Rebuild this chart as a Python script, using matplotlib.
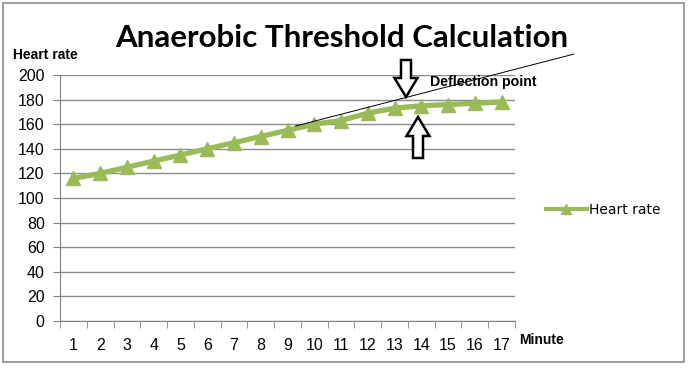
import matplotlib
matplotlib.use("Agg")
import matplotlib.pyplot as plt
from matplotlib.patches import Rectangle, Polygon

minutes = list(range(1, 18))
heart_rate = [116, 120, 125, 130, 135, 140, 145, 150, 155, 160, 163, 169, 173, 175, 176, 177, 178]
y_ticks = [0, 20, 40, 60, 80, 100, 120, 140, 160, 180, 200]
trend_x = [9.3, 19.7]
trend_y = [158.5, 217]

W, H = 700, 376
fig = plt.figure(figsize=(W / 100, H / 100), dpi=100)
fig.patch.set_facecolor("white")

def fx(px):
    return px / W

def fy(py):
    return 1 - py / H

# outer border
fig.patches.append(Rectangle((fx(3), fy(362)), fx(684) - fx(3), fy(3) - fy(362),
                             transform=fig.transFigure, fill=False,
                             edgecolor="#8c8c8c", linewidth=1.2))

ax = fig.add_axes([fx(60), fy(321), fx(515) - fx(60), fy(75) - fy(321)])
green = "#9BBB59"
ax.plot(minutes, heart_rate, color=green, linewidth=3.8, marker="^",
        markersize=9.5, markerfacecolor=green, markeredgecolor=green,
        label="Heart rate", zorder=3)
ax.plot(trend_x, trend_y, color="black", linewidth=0.7, clip_on=False, zorder=4)

ax.set_xlim(0.5, 17.5)
ax.set_ylim(0, 200)
ax.set_yticks(y_ticks)
ax.set_xticks(minutes)
ax.set_xticks([i + 0.5 for i in range(0, 18)], minor=True)
ax.tick_params(axis="x", which="major", length=0, pad=12, labelsize=11.5)
ax.tick_params(axis="x", which="minor", length=5, color="#808080", direction="out")
ax.tick_params(axis="y", length=5, color="#808080", labelsize=11.5, pad=6)
ax.grid(axis="y", color="#8c8c8c", linewidth=1)
ax.set_axisbelow(True)
for s in ["top", "right"]:
    ax.spines[s].set_visible(False)
ax.spines["left"].set_color("#808080")
ax.spines["bottom"].set_color("#808080")

for lab in ax.get_xticklabels() + ax.get_yticklabels():
    lab.set_fontfamily("Liberation Sans")

# texts
fig.text(fx(342), fy(38), "Anaerobic Threshold Calculation", ha="center", va="center",
         fontsize=22.5, fontweight="bold", family="Lato", color="black")
fig.text(fx(13), fy(55), "Heart rate", ha="left", va="center",
         fontsize=10, fontweight="bold", family="Liberation Sans")
fig.text(fx(519), fy(340), "Minute", ha="left", va="center",
         fontsize=10, fontweight="bold", family="Liberation Sans")
fig.text(fx(430), fy(82), "Deflection point", ha="left", va="center",
         fontsize=10.2, fontweight="bold", family="Liberation Sans")

def hollow_arrow(x, y_tail, y_tip):
    sw, hw, hl = 5, 11.5, 19
    d = 1 if y_tip > y_tail else -1
    yh = y_tip - d * hl
    pts = [(x - sw, y_tail), (x + sw, y_tail), (x + sw, yh), (x + hw, yh),
           (x, y_tip), (x - hw, yh), (x - sw, yh)]
    poly = Polygon([(fx(a), fy(b)) for a, b in pts], closed=True,
                   transform=fig.transFigure, facecolor="white",
                   edgecolor="black", linewidth=1.8, zorder=10)
    fig.patches.append(poly)

hollow_arrow(406, 60, 97)
hollow_arrow(418, 158, 117)

leg = ax.legend(loc="center left", bbox_to_anchor=(fx(533 - 60) / (fx(515) - fx(60)), 0.45),
                frameon=False, handlelength=3.0, handletextpad=0.15, markerscale=0.8,
                prop={"family": "DejaVu Sans", "size": 10})
for h in leg.get_lines():
    h.set_linewidth(3)

fig.savefig("out.png", dpi=100)
